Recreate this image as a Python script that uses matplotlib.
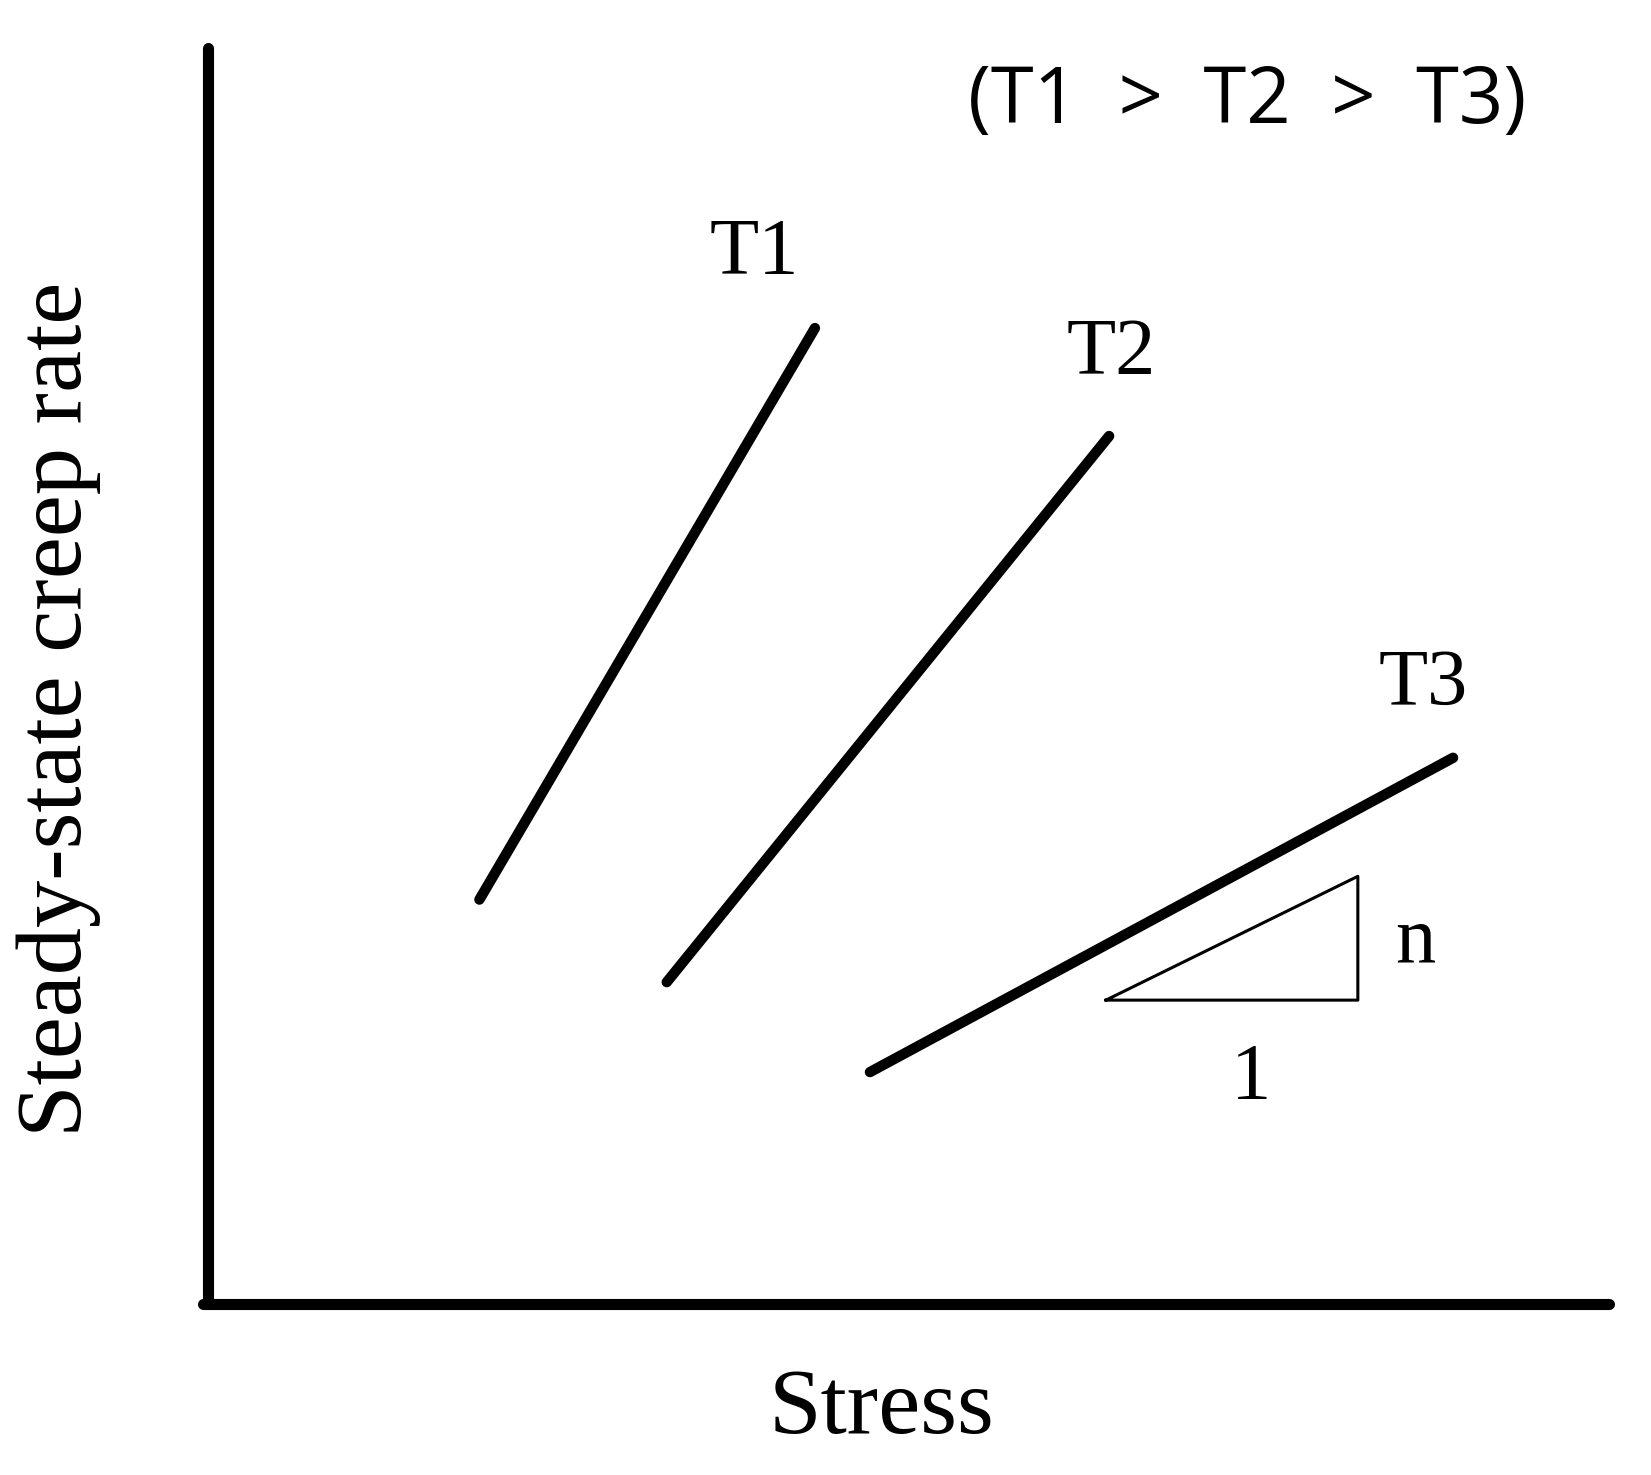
import matplotlib
matplotlib.use("Agg")
import matplotlib.pyplot as plt

# data in reference-pixel coordinates (width 1560 basis, y downward)
series = ["T1", "T2", "T3"]
x_start = [453, 630, 822]
y_start = [850, 928, 1013]
x_end = [770, 1048, 1373]
y_end = [310, 412, 716]
label_x = [713, 1050, 1345]
label_y = [240, 335, 648]
tri_x = [1045, 1283, 1283, 1045]
tri_y = [945, 945, 828, 945]

fig = plt.figure(figsize=(16.51, 14.75), dpi=100)
ax = fig.add_axes([0, 0, 1, 1])
W = 1560; H = W * 1475 / 1651
ax.set_xlim(0, W); ax.set_ylim(H, 0)
ax.axis("off")
serif = "Liberation Serif"

ax.plot([197, 197], [45, 1232], color="black", lw=8, solid_capstyle="round")
ax.plot([192, 1520], [1232, 1232], color="black", lw=8, solid_capstyle="round")
for s, x0, y0, x1, y1, lx, ly in zip(series, x_start, y_start, x_end, y_end, label_x, label_y):
    ax.plot([x0, x1], [y0, y1], color="black", lw=7.5, solid_capstyle="round")
    ax.text(lx, ly, s, fontsize=58, family=serif, ha="center", va="center")
ax.plot(tri_x, tri_y, color="black", lw=2.2)
ax.text(1337, 890, "n", fontsize=58, family=serif, ha="center", va="center")
ax.text(1182, 1020, "1", fontsize=58, family=serif, ha="center", va="center")
ax.text(833, 1333, "Stress", fontsize=68, family=serif, ha="center", va="center")
ax.text(55, 670, "Steady-state creep rate", fontsize=68, family=serif, ha="center",
        va="center", rotation=90)
ax.text(1178, 97, "(T1  >  T2  >  T3)", fontsize=56, family="Open Sans", ha="center", va="center")
fig.savefig("out.png", dpi=100, facecolor="white")
